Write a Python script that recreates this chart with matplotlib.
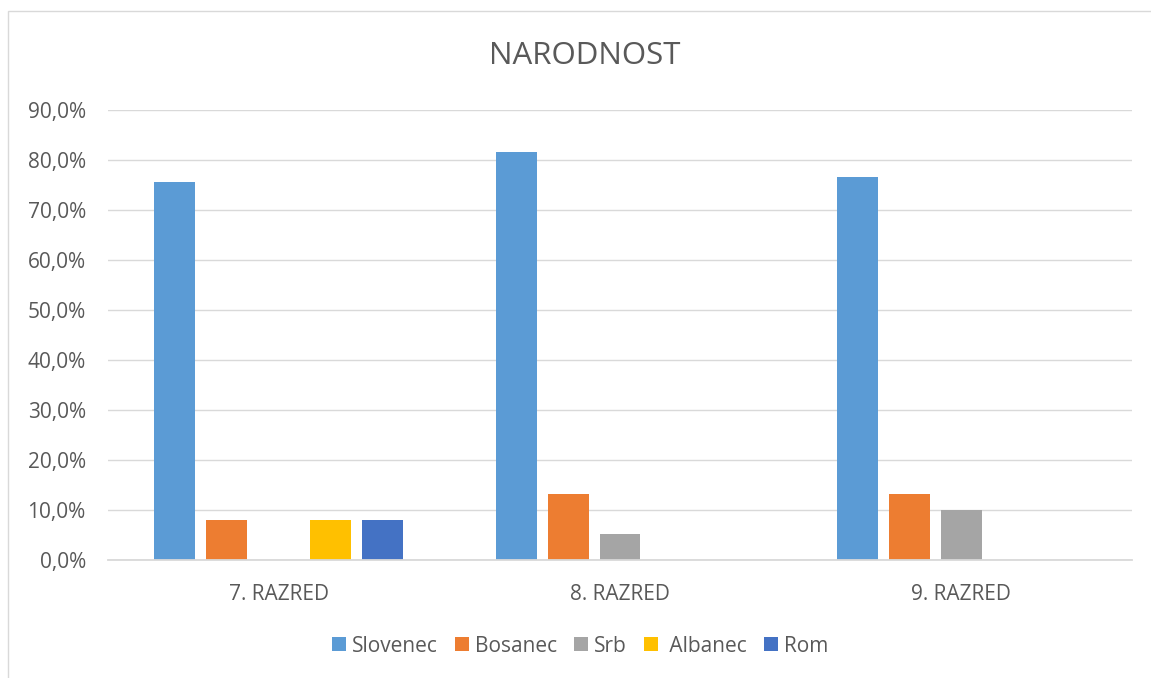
import matplotlib
matplotlib.use("Agg")
import matplotlib.pyplot as plt
import numpy as np
from matplotlib.patches import Rectangle
from matplotlib.ticker import FuncFormatter

categories = ["7. RAZRED", "8. RAZRED", "9. RAZRED"]
series_names = ["Slovenec", "Bosanec", "Srb", " Albanec", "Rom"]
slovenec = [75.7, 81.6, 76.7]
bosanec = [8.1, 13.2, 13.3]
srb = [0.0, 5.3, 10.0]
albanec = [8.1, 0.0, 0.0]
rom = [8.1, 0.0, 0.0]
colors = ["#5B9BD5", "#ED7D31", "#A5A5A5", "#FFC000", "#4472C4"]

plt.rcParams['font.family'] = ['Open Sans', 'DejaVu Sans']
W, H = 1151, 678
fig = plt.figure(figsize=(W / 100, H / 100), dpi=100)
ax = fig.add_axes([108 / W, 1 - 560 / H, (1132 - 108) / W, 450 / H])

data = [slovenec, bosanec, srb, albanec, rom]
x = np.arange(len(categories))
step = 0.152
bw = 0.12
for i, (name, vals) in enumerate(zip(series_names, data)):
    off = (i - 2) * step
    ax.bar(x + off, np.array(vals) / 100, width=bw, color=colors[i], label=name, zorder=3)

ax.set_xlim(-0.5, 2.5)
ax.set_ylim(0, 0.9)
ax.set_yticks(np.arange(0, 0.91, 0.1))
ax.yaxis.set_major_formatter(FuncFormatter(lambda v, p: f"{v*100:.1f}%".replace(".", ",")))
ax.set_xticks(x)
ax.set_xticklabels(categories)
ax.grid(axis='y', color='#D9D9D9', linewidth=1.0, zorder=0)
for s in ["top", "right", "left"]:
    ax.spines[s].set_visible(False)
ax.spines["bottom"].set_color("#D9D9D9")
ax.spines["bottom"].set_linewidth(1.3)
ax.spines["bottom"].set_zorder(4)
ax.tick_params(axis='both', length=0, colors='#595959', labelsize=15)
ax.tick_params(axis='y', pad=16)
ax.tick_params(axis='x', pad=17)

fig.text(585 / W, 1 - 56 / H, "NARODNOST", ha='center', va='center', fontsize=22.5, color='#595959')

leg = fig.legend(loc='center', bbox_to_anchor=(580 / W, 1 - 646 / H), ncol=5, frameon=False,
                 fontsize=15, handlelength=0.68, handleheight=0.68, handletextpad=0.3,
                 columnspacing=0.8, labelcolor='#595959')

fig.patches.append(Rectangle((8 / W, -0.05), 1.2, 1.05 - 11 / H, transform=fig.transFigure,
                             fill=False, edgecolor='#D9D9D9', linewidth=1.0))

fig.savefig("out.png", dpi=100, facecolor='white')
